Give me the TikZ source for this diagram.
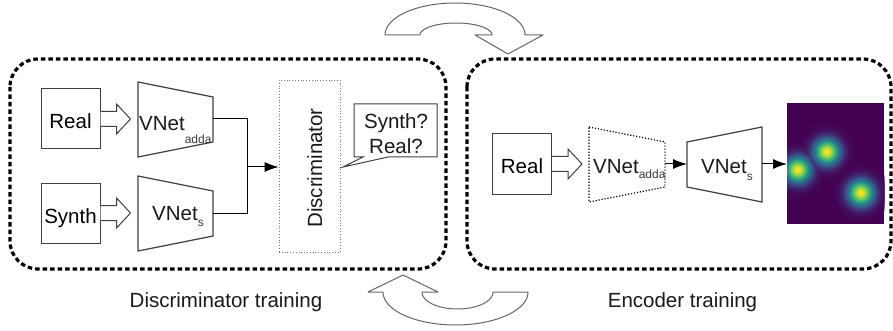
\documentclass[tikz,border=0pt]{standalone}
\usepackage{fontspec}
\setmainfont{Liberation Sans}
\usetikzlibrary{arrows.meta}

\definecolor{vpurp}{HTML}{440154}
\definecolor{vblue}{HTML}{3B528B}
\definecolor{vteal}{HTML}{21918C}
\definecolor{vgrn}{HTML}{5EC962}
\definecolor{vyel}{HTML}{FDE725}
\definecolor{edge}{HTML}{404040}
\definecolor{ink}{HTML}{1A1A1A}
\definecolor{subink}{HTML}{3A3A3A}
\colorlet{spot}{vpurp}

% lowered small subscript
\newcommand{\lowsub}[2]{\raisebox{-#1}{\fontsize{12}{12}\selectfont\color{subink}#2}}

% viridis colour for a value 0..4 (set as \t) into colour "spot"
\newcommand{\viridisspot}{%
  \pgfmathtruncatemacro\k{min(3,floor(\t))}%
  \pgfmathsetmacro\p{100*(\t-\k)}%
  \ifcase\k \colorlet{spot}{vblue!\p!vpurp}%
  \or \colorlet{spot}{vteal!\p!vblue}%
  \or \colorlet{spot}{vgrn!\p!vteal}%
  \or \colorlet{spot}{vyel!\p!vgrn}\fi}

\tikzset{
  panel/.style={draw=black, line width=3.2pt, dash pattern=on 4.5pt off 3pt, rounded corners=28pt},
  inbox/.style={draw=edge, line width=1pt, minimum width=59pt, minimum height=60pt,
                inner sep=0pt, text height=20pt, text depth=0pt},
  txt/.style={text=ink, inner sep=0pt},
  netshape/.style={draw=edge, line width=1.2pt, line join=miter},
  netghost/.style={draw=black, line width=1.2pt, dash pattern=on 1.2pt off 1.8pt},
  link/.style={draw=black, line width=1pt},
  arrowto/.style={-{Latex[length=14pt,width=10pt]}},
  fat/.style={draw=edge, line width=1pt, fill=white},
  swirl/.style={draw=black!60, line width=1pt, fill=white, line join=round},
  fatarrow/.pic={\draw[fat] (0,-7.5) -- (16,-7.5) -- (16,-15) -- (30,0) -- (16,15) -- (16,7.5) -- (0,7.5);}
}

\begin{document}
\begin{tikzpicture}[x=1pt, y=-1pt, font=\fontsize{20.5}{25}\selectfont]
\useasboundingbox (0,0) rectangle (893,331);

% the two training stages
\draw[panel] (10,59) rectangle (446,269);
\draw[panel] (467,59) rectangle (891,269);

% ---------- discriminator training ----------
\node[inbox] (realA) at (70.5,119) {Real};
\node[inbox] (synthA) at (70.5,213) {Synth};
\pic at (realA.east) {fatarrow};
\pic at (synthA.east) {fatarrow};

\draw[netshape] (138,82) -- (213,97) -- (213,142) -- (138,157) -- cycle;
\node[txt, anchor=base west] (addaA) at (139,131) {VNet\lowsub{12.5pt}{adda}};
\coordinate (addaA-out) at (213,119);

\draw[netshape] (138,176) -- (213,191) -- (213,236) -- (138,251) -- cycle;
\node[txt, anchor=base west] (netSA) at (152,220) {VNet\lowsub{6.5pt}{s}};
\coordinate (netSA-out) at (213,213);

\node[draw=black!55, dotted, line width=0.8pt, minimum width=61pt, minimum height=172pt,
      inner sep=0pt] (disc) at (309.5,166) {};
\node[txt, rotate=90, anchor=base] (disclabel) at (322,168) {Discriminator};

\coordinate (join) at (247,167);
\draw[link] (addaA-out) -| (join);
\draw[link] (netSA-out) -| (join);
\draw[link, arrowto] (join) -- (join -| disc.west);

% speech bubble
\draw[draw=edge, line width=1pt, fill=white]
  (354,104) -- (437,104) -- (437,157) -- (388,157) -- (343,167) -- (363,157) -- (354,157) -- cycle;
\node[txt, align=center] (ask) at (396,133.5) {Synth?\\Real?};

% ---------- encoder training ----------
\node[inbox] (realB) at (522,164) {Real};
\pic at (realB.east) {fatarrow};

\draw[netghost] (589,127) -- (665,142) -- (665,187) -- (589,202) -- cycle;
\node[txt, anchor=base west] (addaB) at (593,174) {VNet\lowsub{5pt}{adda}};
\coordinate (addaB-out) at (665,164);

\draw[netshape] (687,142) -- (762,127) -- (762,202) -- (687,187) -- cycle;
\node[txt, anchor=base west] (netSB) at (701,173) {VNet\lowsub{7pt}{s}};
\coordinate (netSB-in) at (687,164);
\coordinate (netSB-out) at (762,164);

% heat map: three Gaussian spots, drawn as rings from the outside in
\node[fill=vpurp, minimum width=97pt, minimum height=121pt, inner sep=0pt, outer sep=0pt]
  (heat) at (835.5,163.5) {};
\begin{scope}
  \clip (heat.south west) rectangle (heat.north east);
  \foreach \r in {30,29.5,...,0.5}{
    \pgfmathsetmacro\t{4*exp(-(\r*\r)/170)}
    \viridisspot
    \foreach \cx/\cy in {798/170,827/152,861/193}
      \fill[spot] (\cx,\cy) circle (\r);
  }
\end{scope}

\draw[link, arrowto] (addaB-out) -- (netSB-in);
\draw[link, arrowto] (netSB-out) -- (netSB-out -| heat.west);

% ---------- stage switching arrows ----------
\draw[swirl] (385,35) -- plot[domain=180:0, samples=60] ({455+70*cos(\x)}, {35-32*sin(\x)})
  -- (543,35) -- (508,54) -- (475,35) -- (492,35)
  -- plot[domain=0:180, samples=60] ({456+36*cos(\x)}, {35-12*sin(\x)}) -- cycle;

\draw[swirl] (403,275) -- (438,292) -- (422,292)
  -- plot[domain=180:360, samples=60] ({457.5+35.5*cos(\x)}, {292-17*sin(\x)})
  -- (528,292)
  -- plot[domain=0:-180, samples=60] ({455.5+72.5*cos(\x)}, {292-33*sin(\x)})
  -- (368,292) -- cycle;

% captions
\node[txt, anchor=base] (capA) at (226,307) {Discriminator training};
\node[txt, anchor=base] (capB) at (682.5,307) {Encoder training};
\end{tikzpicture}
\end{document}
